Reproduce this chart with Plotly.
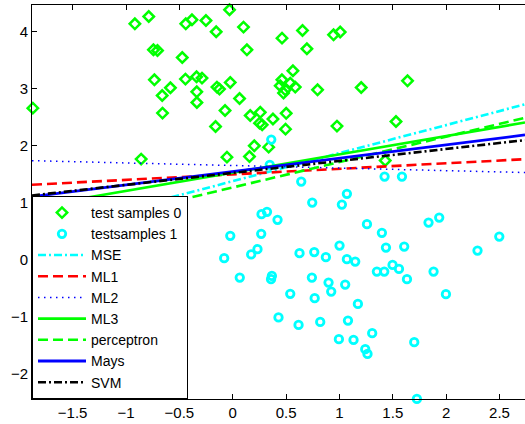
import plotly.graph_objects as go

# Test samples, class 0
class0_x = [-1.873, -0.917, -0.787, -0.743, -0.705, -0.734, -0.584, -0.661, -0.658, -0.858,
            -0.473, -0.440, -0.382, -0.251, -0.155, -0.030, 0.101, 0.133, -0.443, -0.339,
            -0.288, -0.337, -0.336, -0.148, -0.124, -0.023, 0.064, -0.072, -0.161, 0.164,
            0.258, 0.251, 0.276, 0.377, 0.501, 0.495, 0.202, 0.337, 0.157, -0.054,
            0.462, 0.654, 0.695, 0.945, 1.007, 0.564, 0.461, 0.445, 0.492, 0.539,
            0.586, 0.476, 0.795, 1.204, 1.638, 0.977, 1.530, 1.429]
class0_y = [2.661, 4.140, 4.268, 3.684, 3.672, 3.158, 3.018, 2.882, 2.574, 1.767,
            3.549, 4.140, 4.210, 4.198, 4.000, 4.386, 4.082, 3.684, 3.170, 3.210,
            3.188, 2.947, 2.760, 3.030, 2.995, 3.111, 2.830, 2.619, 2.339, 2.532,
            2.588, 2.398, 2.368, 2.470, 2.570, 2.293, 2.000, 1.977, 1.812, 1.802,
            3.889, 4.023, 3.702, 3.947, 3.995, 3.316, 3.158, 3.053, 2.982, 3.100,
            3.030, 2.925, 2.982, 3.023, 3.140, 2.346, 2.426, 1.742]

# Test samples, class 1
class1_x = [0.361, 0.347, 0.642, 1.423, 1.586, 1.070, 0.745, 1.023, 0.321, 0.270,
            0.420, 0.267, -0.023, 0.173, 0.232, -0.080, 0.066, 0.367, 0.359, 1.258,
            1.398, 1.436, 1.607, 1.001, 0.626, 0.764, 0.873, 1.070, 1.148, 1.351,
            1.420, 1.498, 1.558, 1.633, 1.882, 1.835, 1.935, 1.998, 2.294, 2.498,
            0.742, 0.898, 0.923, 1.054, 0.539, 0.768, 1.173, 0.429, 0.617, 0.820,
            1.080, 0.995, 1.132, 1.307, 1.242, 1.263, 1.701, 1.726]
class1_y = [2.110, 1.667, 1.374, 1.461, 1.461, 1.158, 1.005, 0.970, 0.842, 0.802,
            0.702, 0.456, 0.421, 0.096, 0.188, 0.030, -0.311, -0.281, -0.339, 0.626,
            0.474, 0.216, 0.233, 0.251, 0.118, 0.137, 0.047, 0.012, -0.030, -0.205,
            -0.205, -0.088, -0.158, -0.339, -0.205, 0.654, 0.742, -0.602, 0.163, 0.409,
            -0.311, -0.398, -0.556, -0.433, -0.596, -0.672, -0.772, -1.009, -1.140, -1.088,
            -1.065, -1.391, -1.404, -1.286, -1.567, -1.649, -1.444, -2.439]

# Decision boundaries y = slope * x + intercept
classifiers = ["MSE", "ML1", "ML2", "ML3", "perceptron", "Mays", "SVM"]
slopes = [0.492, 0.097, -0.045, 0.321, 0.446, 0.234, 0.210]
intercepts = [1.380, 1.500, 1.655, 1.530, 1.270, 1.550, 1.525]

x_range = [-1.881, 2.739]
y_range = [-2.44, 4.47]

line_styles = {
    "MSE": dict(color="#00ffff", width=2.6, dash="8px,3px,2px,3px"),
    "ML1": dict(color="#ff0000", width=2.6, dash="10px,5px"),
    "ML2": dict(color="#0000ff", width=1.5, dash="1.5px,4.5px"),
    "ML3": dict(color="#00ff00", width=2.6),
    "perceptron": dict(color="#00ff00", width=2.6, dash="10px,5px"),
    "Mays": dict(color="#0000ff", width=2.8),
    "SVM": dict(color="#000000", width=2.6, dash="8px,3px,2px,3px"),
}

fig = go.Figure()

fig.add_trace(go.Scatter(
    x=class0_x, y=class0_y, mode="markers", name="test samples 0",
    cliponaxis=False,
    marker=dict(symbol="diamond-open", size=8, color="#00ff00",
                line=dict(width=2.5, color="#00ff00")),
))
fig.add_trace(go.Scatter(
    x=class1_x, y=class1_y, mode="markers", name="testsamples 1",
    cliponaxis=False,
    marker=dict(symbol="circle-open", size=7.5, color="#00ffff",
                line=dict(width=2.8, color="#00ffff")),
))

for name, a, b in zip(classifiers, slopes, intercepts):
    xs = list(x_range)
    ys = [a * x + b for x in xs]
    fig.add_trace(go.Scatter(x=xs, y=ys, mode="lines", name=name,
                             line=line_styles[name]))

axis_common = dict(
    showgrid=False, zeroline=False, showline=True, linecolor="black",
    linewidth=1, ticks="inside", ticklen=5, tickcolor="black",
    tickfont=dict(family="Liberation Sans", size=15, color="black"),
)

fig.update_xaxes(range=x_range, tickmode="array",
                 tickvals=[-1.5, -1, -0.5, 0, 0.5, 1, 1.5, 2, 2.5],
                 mirror="ticks", **axis_common)
fig.update_yaxes(range=y_range, tickmode="array",
                 tickvals=[-2, -1, 0, 1, 2, 3, 4],
                 mirror=False, **axis_common)

fig.update_layout(
    width=525, height=424,
    margin=dict(l=32, r=0, t=5, b=25),
    plot_bgcolor="white", paper_bgcolor="white",
    font=dict(family="Liberation Sans", size=15, color="black"),
    legend=dict(
        x=0, y=0, xanchor="left", yanchor="bottom",
        bgcolor="white", bordercolor="black", borderwidth=1,
        font=dict(family="Liberation Sans", size=14, color="black"),
        itemwidth=48, tracegroupgap=0, entrywidth=160,
    ),
)

fig.write_html("out.html")
